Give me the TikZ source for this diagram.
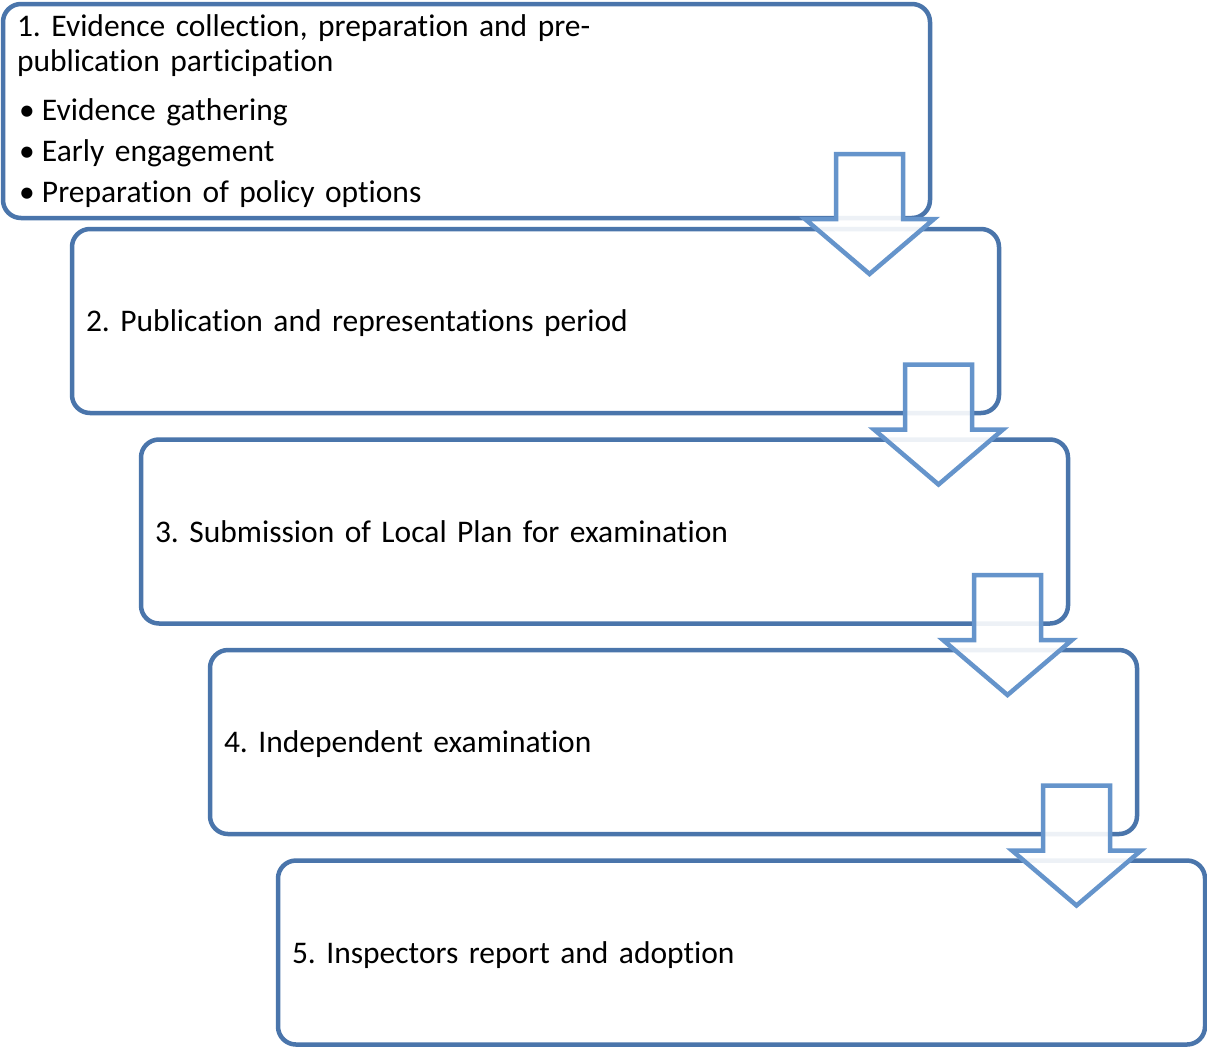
\documentclass[tikz,border=0pt]{standalone}
\usepackage{fontspec}
\setmainfont{Carlito}[Ligatures={NoCommon}]
\usepackage{xcolor}
\definecolor{boxblue}{RGB}{74,117,171}
\definecolor{arrowblue}{RGB}{101,148,203}
\frenchspacing

\begin{document}
\begin{tikzpicture}[x=1pt,y=1pt,yscale=-1,xscale=1,
		stage/.style={draw=boxblue, line width=4.5pt, rounded corners=18pt, fill=white, outer sep=0pt,
			anchor=north west, minimum width=927pt, minimum height=184pt, inner xsep=14pt, inner ysep=0pt,
			text width=899pt, align=left, font=\fontsize{31.5}{35}\selectfont},
		oneline/.style={stage, text height=23pt, text depth=2pt},
		downarrow/.style={draw=arrowblue, line width=4.5pt, fill=white, fill opacity=0.9}]
		% Set diagram size to the reference page
		\useasboundingbox (0,0) rectangle (1207,1050);

		% The first stage with its bullet list
		\node[stage, minimum height=214pt] (s1) at (3,4) {1. Evidence collection, preparation and pre-\\
			publication participation\\[14.5pt]
			\makebox[25pt][l]{\hspace{2pt}•}Evidence gathering\\[6pt]
			\makebox[25pt][l]{\hspace{2pt}•}Early engagement\\[6pt]
			\makebox[25pt][l]{\hspace{2pt}•}Preparation of policy options};

		% The other stages, each one step down and to the right
		\node[oneline] (s2) at (72,229) {2. Publication and representations period};
		\node[oneline] (s3) at (141,439.5) {3. Submission of Local Plan for examination};
		\node[oneline] (s4) at (210,650) {4. Independent examination};
		\node[oneline] (s5) at (278,860.5) {5. Inspectors report and adoption};

		% Block arrows from each stage down to the next one
		\foreach \i/\j in {1/2,2/3,3/4,4/5}
		\draw[downarrow] (s\i.east |- s\j.north) ++(-94,-75) -- ++(67,0) -- ++(0,65) -- ++(31,0)
		-- ++(-64.5,55) -- ++(-64.5,-55) -- ++(31,0) -- cycle;
	\end{tikzpicture}
\end{document}
